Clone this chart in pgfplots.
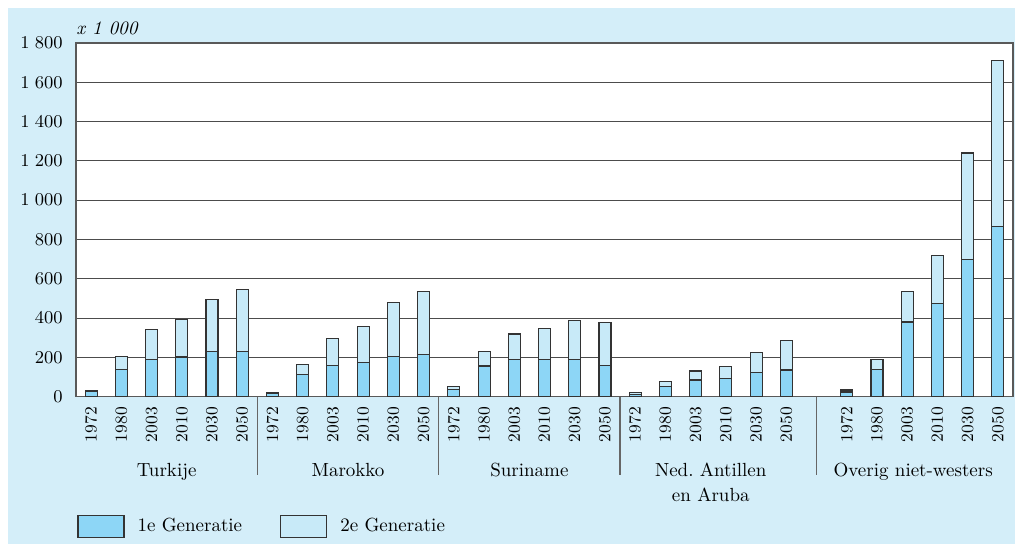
\documentclass[border=0pt]{standalone}
\usepackage{pgfplots}
\pgfplotsset{compat=1.18}
\definecolor{bgblue}{HTML}{D4EEF9}
\definecolor{gen1}{HTML}{8DD6F6}
\definecolor{gen2}{HTML}{C8EAF8}
\begin{document}
\begin{tikzpicture}[font=\fontsize{9.5}{12.5}\selectfont]
\useasboundingbox (0,0) rectangle (507.5pt,272pt);
\fill[bgblue] (4pt,0) rectangle (507.5pt,268pt);
\begin{axis}[
  at={(38pt,73.65pt)}, anchor=south west,
  scale only axis, width=468.5pt, height=176.85pt,
  xmin=-0.5, xmax=30.5, ymin=0, ymax=1800,
  ybar stacked, bar width=6pt,
  clip=false,
  axis background/.style={fill=white},
  axis line style={black!65, line width=0.7pt},
  ymajorgrids, grid style={black!70, line width=0.55pt},
  ytick={0,200,...,1800},
  major tick length=0pt,
  /pgf/number format/.cd, 1000 sep={\;}, /pgfplots/.cd,
  yticklabel style={inner sep=0pt, xshift=-6.5pt, font=\fontsize{9.5}{11}\selectfont},
  xtick={0,1,2,3,4,5,6,7,8,9,10,11,12,13,14,15,16,17,18,19,20,21,22,23,25,26,27,28,29,30},
  xticklabels={1972,1980,2003,2010,2030,2050,1972,1980,2003,2010,2030,2050,1972,1980,2003,2010,2030,2050,1972,1980,2003,2010,2030,2050,1972,1980,2003,2010,2030,2050},
  xticklabel shift=5pt,
  xticklabel style={rotate=90, anchor=east, inner sep=0pt, font=\fontsize{8.5}{10}\selectfont},
  legend columns=2,
  legend style={at={(0,0)}, anchor=north west, xshift=0.5pt, yshift=-58.5pt,
    draw=none, fill=none, inner sep=0pt,
    /tikz/every odd column/.append style={column sep=4.5pt},
    /tikz/every even column/.append style={column sep=17pt},
    font=\fontsize{9.5}{11}\selectfont},
  legend image code/.code={\draw[#1, draw=black!80, line width=0.55pt] (0pt,-5.5pt) rectangle (23pt,5.5pt);},
]
\addplot[fill=gen1, draw=black!80, line width=0.55pt] coordinates {
(0,27) (1,139) (2,190) (3,202) (4,231) (5,228)
(6,18) (7,112) (8,161) (9,175) (10,206) (11,216)
(12,38) (13,156) (14,187) (15,190) (16,190) (17,158)
(18,12) (19,54) (20,85) (21,93) (22,121) (23,136)
(25,24) (26,137) (27,380) (28,472) (29,699) (30,864)};
\addlegendentry{1e Generatie}
\addplot[fill=gen2, draw=black!80, line width=0.55pt] coordinates {
(0,2) (1,65) (2,151) (3,193) (4,263) (5,319)
(6,3) (7,51) (8,133) (9,183) (10,273) (11,320)
(12,13) (13,75) (14,132) (15,158) (16,197) (17,221)
(18,10) (19,24) (20,46) (21,60) (22,103) (23,151)
(25,10) (26,51) (27,156) (28,247) (29,541) (30,845)};
\addlegendentry{2e Generatie}
\foreach \s in {5.5,11.5,17.5,24}{
  \edef\tmp{\noexpand\draw[black!60, line width=0.6pt] (axis cs:\s,0) -- ++(0pt,-39pt);}\tmp
}
\node[anchor=north, inner sep=0pt, align=center, yshift=-33pt] at (axis cs:2.5,0) {Turkije};
\node[anchor=north, inner sep=0pt, align=center, yshift=-33pt] at (axis cs:8.5,0) {Marokko};
\node[anchor=north, inner sep=0pt, align=center, yshift=-33pt] at (axis cs:14.5,0) {Suriname};
\node[anchor=north, inner sep=0pt, align=center, yshift=-33pt] at (axis cs:20.5,0) {Ned.\ Antillen\\en Aruba};
\node[anchor=north, inner sep=0pt, align=center, yshift=-33pt] at (axis cs:27.2,0) {Overig niet-westers};
\node[anchor=south west, inner sep=0pt, yshift=4pt] at (rel axis cs:0,1) {\textit{x 1 000}};
\end{axis}
\end{tikzpicture}
\end{document}
